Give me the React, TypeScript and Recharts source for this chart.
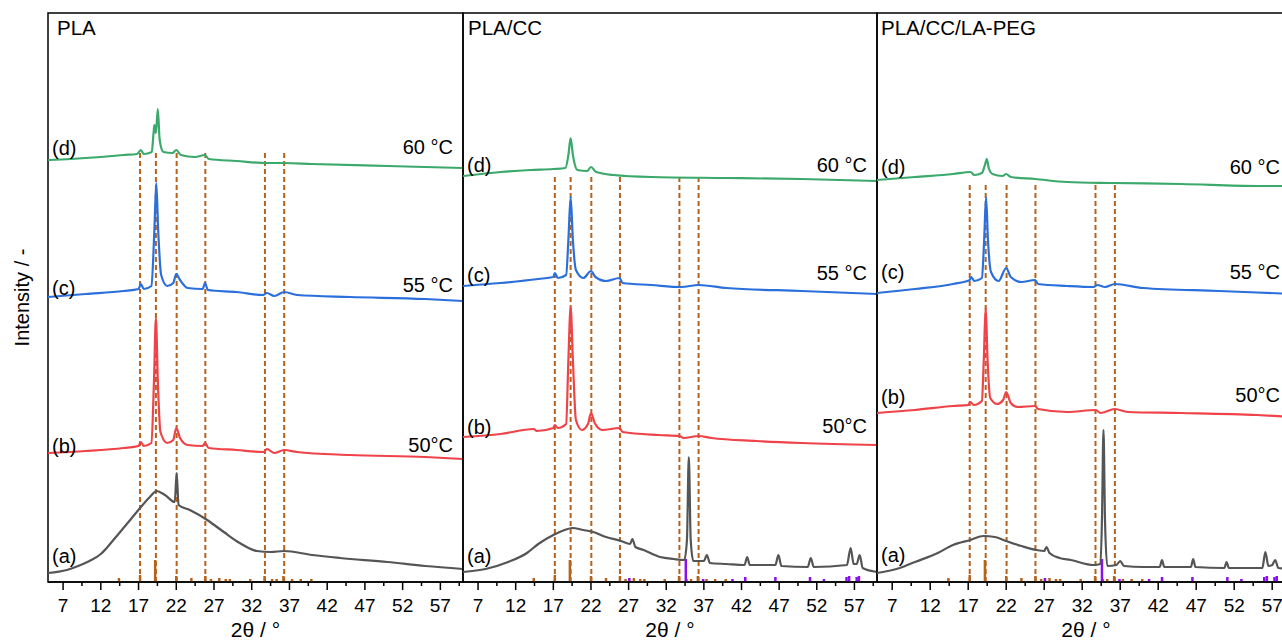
import React from 'react';
import { LineChart, Line, XAxis, YAxis, ReferenceLine, ReferenceArea, ReferenceDot, Label } from 'recharts';

type Pt = [number, number];

// 2θ (°) vs intensity (a.u., already offset for stacking)
const plaA: Pt[] = [[5, 9], [7.5, 12], [9, 16], [10.5, 21], [12, 28], [13, 36], [14, 45], [15, 54], [16, 63], [17.2, 74], [18.5, 85], [19.4, 91], [20.5, 87], [21.8, 80], [22.05, 109], [22.3, 77], [23.8, 72], [26.1, 62], [28.3, 50], [30.4, 39], [32.7, 31], [34.5, 30], [36.3, 31], [40, 27], [43.7, 24], [50, 20], [55, 16], [60, 13]];
const plaB: Pt[] = [[5, 129], [10, 131], [15, 134], [17, 136], [17.3, 140], [17.7, 136], [18.7, 139], [19.05, 202], [19.3, 264], [19.55, 202], [19.9, 150], [20.8, 139], [21.6, 142], [22.0, 154], [22.5, 144], [23.5, 137], [25.5, 136], [25.8, 139], [26.3, 134], [30, 132], [33.6, 130], [34.0, 133], [35, 129], [36.3, 132], [38, 130], [45, 127], [55, 125], [60, 123]];
const plaC: Pt[] = [[5, 285], [10, 288], [15, 291], [17, 293], [17.3, 298], [17.7, 293], [18.7, 296], [19.1, 352], [19.35, 399], [19.6, 352], [20.0, 307], [20.8, 296], [21.6, 299], [22.0, 308], [22.5, 302], [23.5, 294], [25.5, 293], [25.8, 299], [26.2, 292], [30, 290], [33.5, 287], [34.0, 289], [35, 286], [36.3, 290], [38, 287], [45, 285], [55, 283], [60, 281]];
const plaD: Pt[] = [[5, 422], [8, 423], [12, 425], [15, 427], [16.8, 428], [17.3, 432], [17.7, 428], [18.75, 430], [19.0, 450], [19.1, 457], [19.3, 449], [19.55, 473], [19.8, 442], [20.3, 430], [21.5, 429], [22.0, 432], [22.6, 427], [24.5, 425], [25.8, 427], [26.3, 423], [30, 421], [34, 419], [36.3, 419], [40, 418], [50, 416], [60, 414]];

const ccA: Pt[] = [[5, 10], [8, 13], [11, 20], [13.5, 29], [15, 38], [17, 47], [18.5, 52], [19.5, 54], [21, 52], [22.3, 50], [24, 45], [26, 41], [27.2, 38], [27.5, 43], [27.9, 35], [29, 32], [31.2, 25], [33, 23], [34.4, 22], [34.75, 42], [35.0, 125], [35.25, 42], [35.6, 21], [37.0, 21], [37.4, 27], [37.8, 19], [40, 18], [42.4, 17], [42.75, 25], [43.1, 17], [46.5, 17], [46.9, 27], [47.3, 16], [50.8, 15], [51.2, 24], [51.6, 15], [56.0, 17], [56.5, 34], [56.9, 18], [57.3, 18], [57.7, 27], [58.1, 14], [60, 10]];
const ccB: Pt[] = [[5, 145], [10, 148], [14.4, 153], [14.8, 151], [17, 154], [17.2, 157], [17.6, 154], [18.7, 158], [19.0, 222], [19.3, 275], [19.6, 222], [20.0, 162], [20.8, 152], [21.6, 158], [22.0, 169], [22.5, 159], [23.5, 152], [25.8, 154], [26.2, 150], [31, 147], [33.8, 146], [34.3, 144], [36.3, 146], [38, 144], [44, 141], [50, 139], [60, 137]];
const ccC: Pt[] = [[5, 296], [10, 299], [15, 303], [17, 305], [17.2, 309], [17.6, 304], [18.7, 307], [19.0, 342], [19.3, 385], [19.6, 342], [20.0, 312], [21.0, 304], [22.0, 311], [22.6, 305], [24, 301], [25.8, 304], [26.2, 299], [30, 297], [34, 295], [36.3, 297], [40, 294], [50, 291], [60, 288]];
const ccD: Pt[] = [[5, 406], [10, 410], [14, 412], [17, 413], [18.6, 414], [19.0, 427], [19.3, 444], [19.6, 427], [20.2, 412], [21.5, 411], [22.0, 415], [22.7, 410], [25, 407], [30, 405], [40, 404], [50, 403], [60, 401]];

const pegA: Pt[] = [[5, 9], [8, 14], [10, 20], [13, 29], [15, 37], [17.3, 42], [19, 46], [20.5, 45], [22, 41], [24, 36], [26, 32], [27.0, 31], [27.3, 35], [27.7, 29], [29, 24], [30.5, 22], [33.5, 17], [34.4, 18], [34.6, 62], [34.8, 152], [35.0, 62], [35.3, 16], [36.5, 17], [37.0, 21], [37.5, 16], [40, 15], [42.2, 15], [42.5, 22], [42.8, 15], [46.3, 15], [46.6, 23], [46.9, 15], [50.7, 14], [51.0, 20], [51.3, 14], [55.7, 14], [56.1, 30], [56.5, 16], [57.0, 17], [57.4, 22], [57.8, 14], [60, 13]];
const pegB: Pt[] = [[5, 169], [10, 172], [15, 176], [17.0, 177], [17.3, 180], [17.7, 177], [18.8, 181], [19.05, 222], [19.3, 275], [19.55, 222], [19.9, 184], [20.8, 178], [21.6, 182], [22.0, 190], [22.6, 179], [23.5, 175], [25.8, 176], [26.2, 173], [30, 170], [33.8, 172], [34.4, 169], [36.3, 173], [38, 170], [45, 169], [55, 167], [60, 165]];
const pegC: Pt[] = [[5, 289], [10, 293], [15, 298], [17.2, 302], [17.4, 305], [17.8, 301], [18.8, 304], [19.1, 342], [19.35, 385], [19.6, 342], [20.0, 310], [21.0, 301], [22.0, 314], [22.6, 305], [24, 300], [25.8, 302], [26.2, 298], [30, 296], [33.5, 295], [34, 297], [35, 295], [36.3, 298], [40, 294], [50, 291], [60, 288]];
const pegD: Pt[] = [[5, 402], [10, 405], [15, 408], [17.3, 410], [17.8, 407], [18.8, 409], [19.2, 417], [19.45, 423], [19.7, 414], [20.2, 408], [21.5, 406], [22.0, 408], [22.6, 405], [25.8, 403], [30, 400], [36, 399], [45, 398], [55, 396], [60, 396]];

// reference stick patterns (2θ, relative height)
const plaRefPos = [14.4, 17.2, 19.2, 22.0, 24.0, 25.85, 26.6, 27.7, 28.55, 29.1, 31.8, 33.7, 34.7, 35.3, 36.2, 37.35, 38.5, 39.9];
const plaRefH = [4, 7, 22, 6, 4, 6, 3, 4, 3, 3, 3, 6, 3, 3, 6, 3, 3, 3];
const ccRefPos = [27.1, 34.6, 36.9, 40.8, 42.5, 46.5, 51.1, 52.95, 55.95, 56.3, 57.3, 57.6];
const ccRefH = [4, 23, 3, 3, 5, 5, 5, 3, 5, 6, 5, 6];

// PLA reflections marked with dashed guides
const guidePos = [17.2, 19.3, 22.05, 25.85, 33.75, 36.3];

const majorTicks = [7, 12, 17, 22, 27, 32, 37, 42, 47, 52, 57];
const minorTicks = [9.5, 14.5, 19.5, 24.5, 29.5, 34.5, 39.5, 44.5, 49.5, 54.5, 59.5];

const traceTags = ['(a)', '(b)', '(c)', '(d)'];
const tempTags = ['50°C', '55 °C', '60 °C'];

const colors = ['#555555', '#ef4349', '#2a6fdc', '#3aa96b'];
const BROWN = '#b5621c';
const PURPLE = '#8a10f0';

const panels = [
  { title: 'PLA', titleDx: 9, left: 0, plotWidth: 415, series: [plaA, plaB, plaC, plaD], cc: false, guideTop: 430, tagY: [26, 136, 294, 434], tempY: [137, 297, 435], tempDx: -10 },
  { title: 'PLA/CC', titleDx: 5, left: 462, plotWidth: 414, series: [ccA, ccB, ccC, ccD], cc: true, guideTop: 406, tagY: [26, 155, 307, 417], tempY: [156, 309, 417], tempDx: -10 },
  { title: 'PLA/CC/LA-PEG', titleDx: 4, left: 876, plotWidth: 418, series: [pegA, pegB, pegC, pegD], cc: true, guideTop: 400, tagY: [27, 185, 310, 415], tempY: [187, 310, 415], tempDx: -15 },
];

const XTick = ({ x, y, payload }: any) => {
  const major = majorTicks.includes(payload.value);
  return (
    <g>
      <line x1={x} y1={y} x2={x} y2={y + (major ? 8 : 4)} stroke="#000" strokeWidth={1.5} />
      {major && (
        <text x={x} y={y + 30} textAnchor="middle" fontSize={19} fill="#000">{payload.value}</text>
      )}
    </g>
  );
};

const Tag = ({ viewBox, txt, anc, shiftX }: any) => (
  <text x={viewBox.x + shiftX} y={viewBox.y} dy="0.35em" textAnchor={anc} fontSize={20} fill="#000">{txt}</text>
);

const Title = ({ viewBox, txt, shiftX }: any) => (
  <text x={viewBox.x + shiftX} y={viewBox.y + 22} fontSize={20.5} fill="#000">{txt}</text>
);

const XTitle = ({ viewBox }: any) => (
  <text x={viewBox.x + viewBox.width / 2} y={viewBox.y + 55} textAnchor="middle" fontSize={21} fill="#000">2θ / °</text>
);

const YTitle = ({ viewBox }: any) => {
  const cx = viewBox.x + 22;
  const cy = viewBox.y + viewBox.height / 2;
  return (
    <text x={cx} y={cy} dy="0.35em" textAnchor="middle" fontSize={20} fill="#000" transform={`rotate(-90, ${cx}, ${cy})`}>Intensity / -</text>
  );
};

const Panel = ({ p, first }: any) => {
  const width = (first ? 48 : 1) + p.plotWidth + 1;
  return (
    <div style={{ position: 'absolute', left: p.left, top: 0 }}>
      <LineChart width={width} height={641} margin={{ top: 13, right: 1, bottom: 0, left: first ? 0 : 1 }}>
        <XAxis
          dataKey="x"
          type="number"
          domain={[5, 60]}
          allowDataOverflow
          ticks={[...majorTicks, ...minorTicks]}
          interval={0}
          height={59}
          tickSize={0}
          tickMargin={0}
          tickLine={false}
          axisLine={{ stroke: '#000', strokeWidth: 1.5 }}
          tick={<XTick />}
        >
          <Label content={<XTitle />} />
        </XAxis>
        {first ? (
          <YAxis type="number" domain={[0, 569]} allowDataOverflow width={48} tick={false} axisLine={false} tickLine={false}>
            <Label content={<YTitle />} />
          </YAxis>
        ) : (
          <YAxis type="number" domain={[0, 569]} allowDataOverflow hide />
        )}
        <ReferenceArea
          x1={5}
          x2={60}
          y1={0}
          y2={569}
          fill="none"
          fillOpacity={0}
          stroke="#000"
          strokeWidth={1.5}
          ifOverflow="visible"
          label={<Title txt={p.title} shiftX={p.titleDx} />}
        />
        {guidePos.map((g) => (
          <ReferenceLine
            key={'g' + g}
            segment={[{ x: g, y: 0 }, { x: g, y: p.guideTop }]}
            stroke={BROWN}
            strokeWidth={2}
            strokeDasharray="5 3"
          />
        ))}
        {plaRefPos.map((s, i) => (
          <ReferenceLine key={'s' + s} segment={[{ x: s, y: 0 }, { x: s, y: plaRefH[i] }]} stroke={BROWN} strokeWidth={2.5} />
        ))}
        {p.cc &&
          ccRefPos.map((s, i) => (
            <ReferenceLine key={'c' + s} segment={[{ x: s, y: 0 }, { x: s, y: ccRefH[i] }]} stroke={PURPLE} strokeWidth={2.5} />
          ))}
        {p.series.map((pts: Pt[], i: number) => (
          <Line
            key={i}
            data={pts.map(([x, y]) => ({ x, y }))}
            dataKey="y"
            type="monotone"
            stroke={colors[i]}
            strokeWidth={2.2}
            dot={false}
            activeDot={false}
            isAnimationActive={false}
          />
        ))}
        {traceTags.map((t, i) => (
          <ReferenceDot key={t} x={5} y={p.tagY[i]} r={0} fill="none" stroke="none" label={<Tag txt={t} anc="start" shiftX={4} />} />
        ))}
        {tempTags.map((t, i) => (
          <ReferenceDot key={t} x={60} y={p.tempY[i]} r={0} fill="none" stroke="none" label={<Tag txt={t} anc="end" shiftX={p.tempDx} />} />
        ))}
      </LineChart>
    </div>
  );
}

export default function App() {
  return (
    <div
      style={{
        position: 'absolute',
        left: 0,
        top: 0,
        width: 1282,
        height: 641,
        overflow: 'hidden',
        background: '#fff',
        fontFamily: "'Liberation Sans', Arial, sans-serif",
      }}
    >
      {panels.map((p, i) => (
        <Panel key={p.title} p={p} first={i === 0} />
      ))}
    </div>
  );
}
